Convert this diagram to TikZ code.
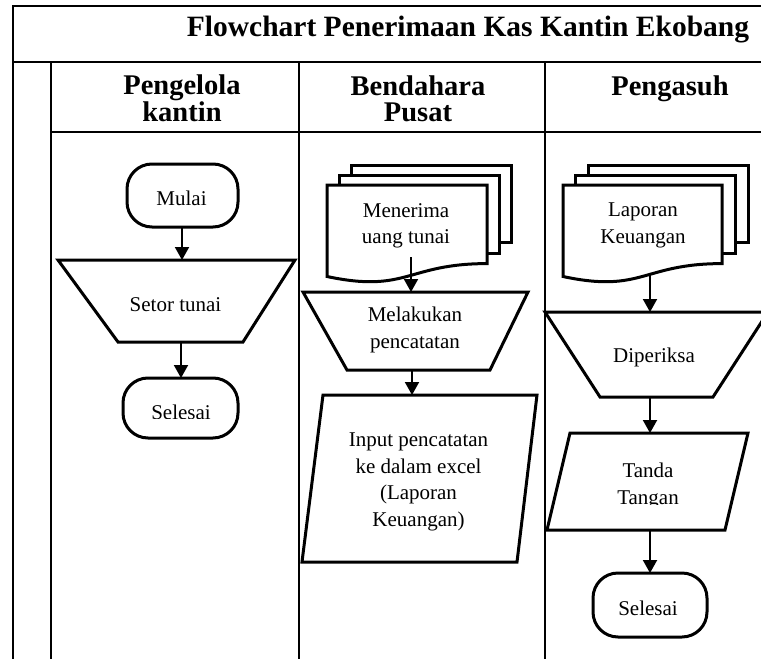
\documentclass[tikz,border=0pt]{standalone}
\usepackage{fontspec}
\setmainfont{Liberation Serif}
\usetikzlibrary{arrows.meta}
\begin{document}
\begin{tikzpicture}[x=1pt,y=-1pt,
  tbl/.style={line width=2pt},
  shp/.style={line width=3pt, fill=white},
  term/.style={shp, rounded corners=25pt},
  arr/.style={line width=2pt, -{Triangle[width=14pt,length=13pt]}},
  body/.style={font=\fontsize{21}{26.5}\selectfont, align=center, inner sep=0pt},
  hdr/.style={font=\fontsize{28.5}{26}\selectfont\bfseries, align=center, inner sep=0pt}]
\useasboundingbox (0,0) rectangle (761,659);
\begin{scope}
\clip (0,0) rectangle (761,659);
% table
\draw[tbl] (13,659) -- (13,6) -- (761,6);
\draw[tbl] (13,62) -- (761,62);
\draw[tbl] (51,132) -- (761,132);
\draw[tbl] (51,62) -- (51,659);
\draw[tbl] (299,62) -- (299,659);
\draw[tbl] (545,62) -- (545,659);
\node[hdr, font=\fontsize{29.5}{30}\selectfont\bfseries, anchor=base] (title) at (468,36) {Flowchart Penerimaan Kas Kantin Ekobang};
\node[hdr] (h1) at (182,98.5) {Pengelola\\kantin};
\node[hdr] (h2) at (418,98.5) {Bendahara\\Pusat};
\node[hdr, anchor=base] (h3) at (670,95) {Pengasuh};

% column 1
\draw[term] (127,164) rectangle (238,227);
\node[body, anchor=base] (mulai) at (181.5,205) {Mulai};
\draw[shp] (58,260) -- (295,260) -- (243,342) -- (118,342) -- cycle;
\node[body, anchor=base] (setor) at (175.5,311) {Setor tunai};
\draw[term] (123,378) rectangle (238,438);
\begin{scope}
\clip (100,370) rectangle (260,418);
\node[body, anchor=base] (sel1) at (181,419) {Selesai};
\end{scope}
\coordinate (a1s) at (182,227);
\coordinate (a1e) at (182,260);
\coordinate (a2s) at (181,342);
\coordinate (a2e) at (181,378);
\draw[arr] (a1s) -- (a1e);
\draw[arr] (a2s) -- (a2e);

% column 2
\draw[shp] (351,165) rectangle (511,242);
\draw[shp] (339,175) rectangle (499,253);
\draw[shp] (327,185) -- (487,185) -- (487,263.6) .. controls (407,263.6) and (407,293.5) .. (327,276.5) -- cycle;
\node[body] (terima) at (406,225.6) {Menerima\\uang tunai};
\draw[shp] (303,292) -- (528,292) -- (490,370) -- (347,370) -- cycle;
\node[body] (catat) at (415,330) {Melakukan\\pencatatan};
\draw[shp] (323,395) -- (537,395) -- (517,562) -- (302,562) -- cycle;
\node[body] (input) at (418.5,481.7) {Input pencatatan\\ke dalam excel\\(Laporan\\Keuangan)};
\coordinate (b1s) at (411,257);
\coordinate (b1e) at (411,292);
\coordinate (b2s) at (412,370);
\coordinate (b2e) at (412,395);
\draw[arr] (b1s) -- (b1e);
\draw[arr] (b2s) -- (b2e);

% column 3
\draw[shp] (588,165) rectangle (748,242);
\draw[shp] (575.5,175) rectangle (735,253);
\draw[shp] (563,185) -- (722,185) -- (722,263.6) .. controls (642.5,263.6) and (642.5,293.5) .. (563,276.5) -- cycle;
\node[body] (lapor) at (643,225.6) {Laporan\\Keuangan};
\draw[shp] (545,312) -- (768,312) -- (713,397) -- (600,397) -- cycle;
\node[body, anchor=base] (periksa) at (654,362) {Diperiksa};
\draw[shp] (570,433) -- (748,433) -- (725,530) -- (547,530) -- cycle;
\begin{scope}
\clip (550,440) rectangle (750,504);
\node[body] (ttd) at (648,486) {Tanda\\Tangan};
\end{scope}
\draw[term] (593,573) rectangle (707,637);
\node[body, anchor=base] (sel2) at (648,615) {Selesai};
\coordinate (c1s) at (650,275);
\coordinate (c1e) at (650,312);
\coordinate (c2s) at (650,397);
\coordinate (c2e) at (650,433);
\coordinate (c3s) at (650,530);
\coordinate (c3e) at (650,573);
\draw[arr] (c1s) -- (c1e);
\draw[arr] (c2s) -- (c2e);
\draw[arr] (c3s) -- (c3e);
\end{scope}
\end{tikzpicture}
\end{document}
